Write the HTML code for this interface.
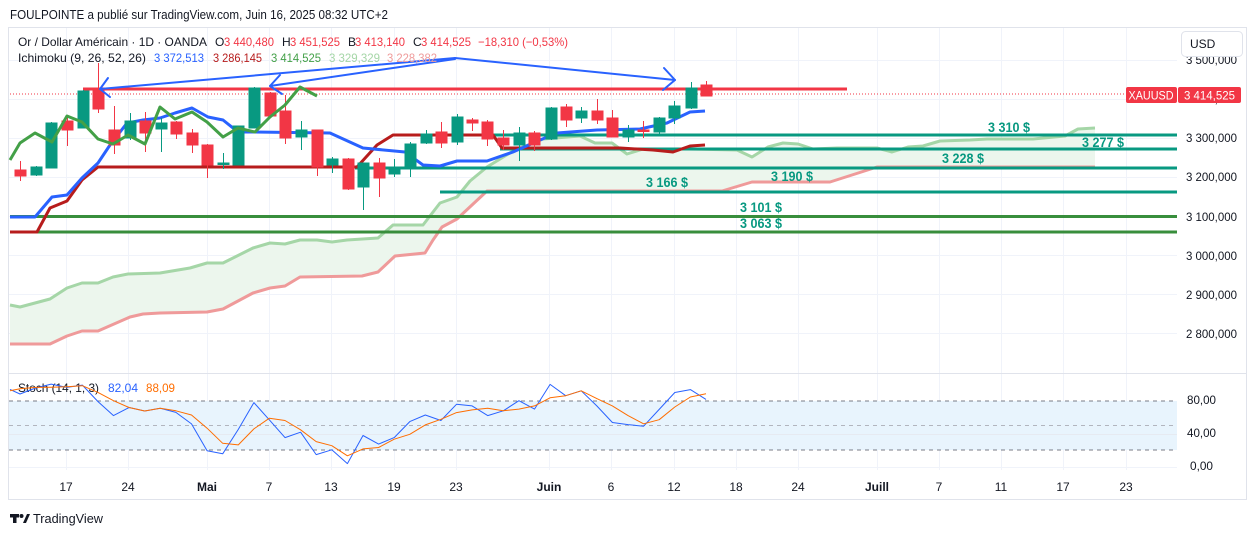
<!DOCTYPE html>
<html><head><meta charset="utf-8"><style>
html,body{margin:0;padding:0;background:#fff;width:1257px;height:536px;overflow:hidden}
svg{display:block;font-family:"Liberation Sans",sans-serif}
</style></head><body>
<svg width="1257" height="536" viewBox="0 0 1257 536" xmlns="http://www.w3.org/2000/svg">
<rect width="1257" height="536" fill="#fff"/>
<text x="10" y="19" font-size="13" fill="#131722" textLength="378" lengthAdjust="spacingAndGlyphs">FOULPOINTE a publié sur TradingView.com, Juin 16, 2025 08:32 UTC+2</text>
<rect x="8.5" y="27.5" width="1238" height="472" fill="none" stroke="#e0e3eb"/>
<!-- grid -->
<g stroke="#f0f3fa" stroke-width="1">
<line x1="66.5" y1="28" x2="66.5" y2="470"/><line x1="128.5" y1="28" x2="128.5" y2="470"/><line x1="207.5" y1="28" x2="207.5" y2="470"/><line x1="269.5" y1="28" x2="269.5" y2="470"/><line x1="331.5" y1="28" x2="331.5" y2="470"/><line x1="394.5" y1="28" x2="394.5" y2="470"/><line x1="456.5" y1="28" x2="456.5" y2="470"/><line x1="549.5" y1="28" x2="549.5" y2="470"/><line x1="611.5" y1="28" x2="611.5" y2="470"/><line x1="674.5" y1="28" x2="674.5" y2="470"/><line x1="736.5" y1="28" x2="736.5" y2="470"/><line x1="798.5" y1="28" x2="798.5" y2="470"/><line x1="877.5" y1="28" x2="877.5" y2="470"/><line x1="939.5" y1="28" x2="939.5" y2="470"/><line x1="1001.5" y1="28" x2="1001.5" y2="470"/><line x1="1063.5" y1="28" x2="1063.5" y2="470"/><line x1="1126.5" y1="28" x2="1126.5" y2="470"/>
<line x1="9" y1="60.5" x2="1177" y2="60.5"/><line x1="9" y1="99.5" x2="1177" y2="99.5"/><line x1="9" y1="138.5" x2="1177" y2="138.5"/><line x1="9" y1="177.5" x2="1177" y2="177.5"/><line x1="9" y1="216.5" x2="1177" y2="216.5"/><line x1="9" y1="255.5" x2="1177" y2="255.5"/><line x1="9" y1="294.5" x2="1177" y2="294.5"/><line x1="9" y1="333.5" x2="1177" y2="333.5"/>
</g>
<line x1="9" y1="373.5" x2="1246" y2="373.5" stroke="#e0e3eb"/>
<!-- cloud -->
<polygon fill="#ecf6ed" points="10,305 20,307 50,299 67,288 82,283 98,283 113,277 128,274 160,273 190,268 207,263 223,263 253,248 270,243 285,244 300,240 317,240 332,242 347,240 378,238 393,225 423,225 440,203 457,197 470,181 487,167 513,151 543,139 580,136 595,143 612,143 627,154 643,149 690,149 737,150 752,157 768,147 783,143 798,144 813,149 837,148 877,148 892,152 908,147 923,146 940,141 970,140 987,139 1033,139 1065,136 1078,129 1095,128 1095,167 877,167 830,182 752,182 722,191 487,191 457,219 442,227 433,240 425,253 395,256 378,272 362,276 300,277 285,286 270,288 253,293 223,309 207,312 160,313 143,314 130,317 98,331 82,331 67,336 50,344 10,344"/>
<polyline fill="none" stroke="#a5d6a7" stroke-width="3" stroke-linejoin="round" points="10,305 20,307 50,299 67,288 82,283 98,283 113,277 128,274 160,273 190,268 207,263 223,263 253,248 270,243 285,244 300,240 317,240 332,242 347,240 378,238 393,225 423,225 440,203 457,197 470,181 487,167 513,151 543,139 580,136 595,143 612,143 627,154 643,149 690,149 737,150 752,157 768,147 783,143 798,144 813,149 837,148 877,148 892,152 908,147 923,146 940,141 970,140 987,139 1033,139 1065,136 1078,129 1095,128"/>
<polyline fill="none" stroke="#ef9a9a" stroke-width="3" stroke-linejoin="round" points="10,344 50,344 67,336 82,331 98,331 130,317 143,314 160,313 207,312 223,309 253,293 270,288 285,286 300,277 362,276 378,272 395,256 425,253 433,240 442,227 457,219 487,191 722,191 752,182 830,182 877,167 1095,167"/>
<!-- horizontal levels -->
<g stroke-width="3">
<line x1="490" y1="135" x2="1177" y2="135" stroke="#089981"/>
<line x1="500" y1="149" x2="1177" y2="149" stroke="#089981"/>
<line x1="355" y1="168" x2="1177" y2="168" stroke="#089981"/>
<line x1="440" y1="192" x2="1177" y2="192" stroke="#089981"/>
<line x1="10" y1="216.5" x2="1177" y2="216.5" stroke="#388e3c"/>
<line x1="10" y1="232" x2="1177" y2="232" stroke="#388e3c"/>
</g>
<g font-size="14" font-weight="bold" fill="#089981">
<text x="988" y="132" textLength="42" lengthAdjust="spacingAndGlyphs">3 310 $</text>
<text x="1082" y="147" textLength="42" lengthAdjust="spacingAndGlyphs">3 277 $</text>
<text x="942" y="163" textLength="42" lengthAdjust="spacingAndGlyphs">3 228 $</text>
<text x="771" y="181" textLength="42" lengthAdjust="spacingAndGlyphs">3 190 $</text>
<text x="646" y="187" textLength="42" lengthAdjust="spacingAndGlyphs">3 166 $</text>
<text x="740" y="212" textLength="42" lengthAdjust="spacingAndGlyphs">3 101 $</text>
<text x="740" y="228" textLength="42" lengthAdjust="spacingAndGlyphs">3 063 $</text>
</g>
<!-- kijun -->
<polyline fill="none" stroke="#b71c1c" stroke-width="3" stroke-linejoin="round" points="10,232 37,232 50,208 67,201 82,180 98,167 357,167 377,145 393,135 493,135 502,148 620,148 653,150 673,152 690,146 705,145"/>
<!-- tenkan -->
<polyline fill="none" stroke="#2962ff" stroke-width="3" stroke-linejoin="round" points="10,217 35,217 52,197 67,195 82,178 98,163 110,145 127,123 143,120 160,118 175,113 192,108 208,117 223,120 238,132 253,132 330,133 363,148 405,152 423,165 440,166 457,161 487,161 513,152 540,140 557,133 597,130 640,129 667,123 690,112 705,111"/>
<!-- close dotted -->
<line x1="10" y1="94" x2="1126" y2="94" stroke="#f23645" stroke-width="1" stroke-dasharray="1,2"/>
<!-- resistance -->
<line x1="83" y1="89" x2="847" y2="89" stroke="#f23645" stroke-width="3"/>
<!-- candles -->
<g stroke-width="1">
<g stroke="#f23645" fill="#f23645">
<line x1="20.5" y1="161" x2="20.5" y2="181"/><rect x="15" y="170" width="11" height="6"/>
<line x1="67.5" y1="116" x2="67.5" y2="146"/><rect x="62" y="121" width="11" height="9"/>
<line x1="98.5" y1="63" x2="98.5" y2="113"/><rect x="93" y="89" width="11" height="20"/>
<line x1="114.5" y1="106" x2="114.5" y2="154"/><rect x="109" y="130" width="11" height="15"/>
<line x1="145.5" y1="112" x2="145.5" y2="152"/><rect x="140" y="121" width="11" height="12"/>
<line x1="176.5" y1="121" x2="176.5" y2="139"/><rect x="171" y="122" width="11" height="12"/>
<line x1="192.5" y1="129" x2="192.5" y2="153"/><rect x="187" y="133" width="11" height="12"/>
<line x1="207.5" y1="144" x2="207.5" y2="178"/><rect x="202" y="145" width="11" height="20"/>
<line x1="270.5" y1="92" x2="270.5" y2="117"/><rect x="265" y="93" width="11" height="23"/>
<line x1="285.5" y1="95" x2="285.5" y2="144"/><rect x="280" y="111" width="11" height="27"/>
<line x1="317.5" y1="130" x2="317.5" y2="176"/><rect x="312" y="130" width="11" height="37"/>
<line x1="348.5" y1="158" x2="348.5" y2="190"/><rect x="343" y="159" width="11" height="30"/>
<line x1="379.5" y1="158" x2="379.5" y2="197"/><rect x="374" y="163" width="11" height="15"/>
<line x1="441.5" y1="122" x2="441.5" y2="148"/><rect x="436" y="132" width="11" height="11"/>
<line x1="472.5" y1="118" x2="472.5" y2="131"/><rect x="467" y="120" width="11" height="3"/>
<line x1="487.5" y1="120" x2="487.5" y2="146"/><rect x="482" y="122" width="11" height="17"/>
<line x1="503.5" y1="130" x2="503.5" y2="150"/><rect x="498" y="138" width="11" height="7"/>
<line x1="534.5" y1="131" x2="534.5" y2="151"/><rect x="529" y="133" width="11" height="12"/>
<line x1="566.5" y1="104" x2="566.5" y2="127"/><rect x="561" y="107" width="11" height="13"/>
<line x1="597.5" y1="99" x2="597.5" y2="124"/><rect x="592" y="111" width="11" height="9"/>
<line x1="612.5" y1="110" x2="612.5" y2="137"/><rect x="607" y="118" width="11" height="19"/>
<line x1="643.5" y1="121" x2="643.5" y2="138"/><rect x="638" y="130" width="11" height="1.5"/>
<line x1="706.5" y1="81" x2="706.5" y2="96"/><rect x="701" y="85" width="11" height="11"/>
</g>
<g stroke="#089981" fill="#089981">
<line x1="36.5" y1="166" x2="36.5" y2="176"/><rect x="31" y="167" width="11" height="8"/>
<line x1="51.5" y1="122" x2="51.5" y2="168"/><rect x="46" y="123" width="11" height="45"/>
<line x1="83.5" y1="90" x2="83.5" y2="128"/><rect x="78" y="91" width="11" height="37"/>
<line x1="130.5" y1="113" x2="130.5" y2="140"/><rect x="125" y="121" width="11" height="17"/>
<line x1="161.5" y1="118" x2="161.5" y2="152"/><rect x="156" y="123" width="11" height="6"/>
<line x1="223.5" y1="153" x2="223.5" y2="169"/><rect x="218" y="163" width="11" height="1.5"/>
<line x1="238.5" y1="126" x2="238.5" y2="165"/><rect x="233" y="126" width="11" height="39"/>
<line x1="254.5" y1="87" x2="254.5" y2="128"/><rect x="249" y="88" width="11" height="40"/>
<line x1="301.5" y1="121" x2="301.5" y2="150"/><rect x="296" y="130" width="11" height="7"/>
<line x1="332.5" y1="157" x2="332.5" y2="173"/><rect x="327" y="159" width="11" height="6"/>
<line x1="363.5" y1="163" x2="363.5" y2="210"/><rect x="358" y="163" width="11" height="24"/>
<line x1="394.5" y1="159" x2="394.5" y2="177"/><rect x="389" y="167" width="11" height="7"/>
<line x1="410.5" y1="142" x2="410.5" y2="177"/><rect x="405" y="144" width="11" height="24"/>
<line x1="426.5" y1="130" x2="426.5" y2="144"/><rect x="421" y="134" width="11" height="9"/>
<line x1="457.5" y1="114" x2="457.5" y2="145"/><rect x="452" y="117" width="11" height="25"/>
<line x1="519.5" y1="127" x2="519.5" y2="161"/><rect x="514" y="133" width="11" height="12"/>
<line x1="551.5" y1="107" x2="551.5" y2="140"/><rect x="546" y="108" width="11" height="31"/>
<line x1="581.5" y1="107" x2="581.5" y2="123"/><rect x="576" y="111" width="11" height="7"/>
<line x1="628.5" y1="125" x2="628.5" y2="142"/><rect x="623" y="130" width="11" height="7"/>
<line x1="659.5" y1="117" x2="659.5" y2="134"/><rect x="654" y="118" width="11" height="14"/>
<line x1="674.5" y1="101" x2="674.5" y2="124"/><rect x="669" y="106" width="11" height="12"/>
<line x1="691.5" y1="82" x2="691.5" y2="109"/><rect x="686" y="88" width="11" height="20"/>
</g>
</g>
<!-- chikou -->
<polyline fill="none" stroke="#43a047" stroke-width="3" stroke-linejoin="round" points="10,160 20,143 35,133 52,142 67,116 82,122 98,139 113,144 128,135 145,144 160,107 175,119 192,112 207,122 223,137 238,128 255,132 270,117 285,105 300,87 317,96"/>
<!-- drawn arrows -->
<g fill="none" stroke="#2962ff" stroke-width="2" stroke-linecap="round" stroke-linejoin="round">
<polyline points="455,58 100,89"/><polyline points="108,78 100,89 110,97"/>
<polyline points="455,59 270,86"/><polyline points="280,75 270,86 282,94"/>
<polyline points="455,58 675,80"/><polyline points="664,68 675,80 663,90"/>
</g>
<!-- legend -->
<g font-size="12" fill="#131722">
<text x="18" y="46" textLength="189" lengthAdjust="spacingAndGlyphs">Or / Dollar Américain · 1D · OANDA</text>
<text x="215" y="46">O</text><text x="224" y="46" fill="#f23645" textLength="50" lengthAdjust="spacingAndGlyphs">3 440,480</text>
<text x="282" y="46">H</text><text x="290" y="46" fill="#f23645" textLength="50" lengthAdjust="spacingAndGlyphs">3 451,525</text>
<text x="348" y="46">B</text><text x="355" y="46" fill="#f23645" textLength="50" lengthAdjust="spacingAndGlyphs">3 413,140</text>
<text x="413" y="46">C</text><text x="421" y="46" fill="#f23645" textLength="50" lengthAdjust="spacingAndGlyphs">3 414,525</text>
<text x="478" y="46" fill="#f23645" textLength="90" lengthAdjust="spacingAndGlyphs">−18,310 (−0,53%)</text>
<text x="18" y="62" textLength="128" lengthAdjust="spacingAndGlyphs">Ichimoku (9, 26, 52, 26)</text>
<text x="154" y="62" fill="#2962ff" textLength="50" lengthAdjust="spacingAndGlyphs">3 372,513</text>
<text x="213" y="62" fill="#b71c1c" textLength="49" lengthAdjust="spacingAndGlyphs">3 286,145</text>
<text x="271" y="62" fill="#43a047" textLength="50" lengthAdjust="spacingAndGlyphs">3 414,525</text>
<text x="329" y="62" fill="#a5d6a7" textLength="51" lengthAdjust="spacingAndGlyphs">3 329,329</text>
<text x="387" y="62" fill="#ef9a9a" textLength="50" lengthAdjust="spacingAndGlyphs">3 228,382</text>
</g>
<!-- price axis -->
<g font-size="12" fill="#131722">
<text x="1186" y="64" textLength="51" lengthAdjust="spacingAndGlyphs">3 500,000</text>
<text x="1186" y="103" textLength="51" lengthAdjust="spacingAndGlyphs">3 400,000</text>
<text x="1186" y="142" textLength="51" lengthAdjust="spacingAndGlyphs">3 300,000</text>
<text x="1186" y="181" textLength="51" lengthAdjust="spacingAndGlyphs">3 200,000</text>
<text x="1186" y="221" textLength="51" lengthAdjust="spacingAndGlyphs">3 100,000</text>
<text x="1186" y="260" textLength="51" lengthAdjust="spacingAndGlyphs">3 000,000</text>
<text x="1186" y="299" textLength="51" lengthAdjust="spacingAndGlyphs">2 900,000</text>
<text x="1186" y="338" textLength="51" lengthAdjust="spacingAndGlyphs">2 800,000</text>
</g>
<rect x="1181.5" y="31.5" width="61" height="25" rx="4" fill="#fff" stroke="#e0e3eb"/>
<text x="1190" y="48" font-size="12" fill="#131722">USD</text>
<rect x="1126" y="87" width="51" height="16" rx="2" fill="#f23645"/>
<rect x="1178" y="87" width="63" height="16" rx="2" fill="#f23645"/>
<text x="1151" y="99.5" font-size="12" fill="#fff" text-anchor="middle" textLength="45" lengthAdjust="spacingAndGlyphs">XAUUSD</text>
<text x="1209.5" y="99.5" font-size="12" fill="#fff" text-anchor="middle" textLength="51" lengthAdjust="spacingAndGlyphs">3 414,525</text>
<!-- stoch pane -->
<rect x="9" y="401" width="1168" height="49" fill="#e8f4fd"/>
<line x1="9" y1="434.5" x2="1177" y2="434.5" stroke="#e6eaf1"/>
<line x1="9" y1="467.5" x2="1177" y2="467.5" stroke="#f0f3fa"/>
<line x1="9" y1="401" x2="1177" y2="401" stroke="#787b86" stroke-dasharray="4,4"/>
<line x1="9" y1="425.5" x2="1177" y2="425.5" stroke="#b2b5be" stroke-dasharray="4,4"/>
<line x1="9" y1="450" x2="1177" y2="450" stroke="#787b86" stroke-dasharray="4,4"/>
<text x="18" y="392" font-size="12" fill="#131722" textLength="81" lengthAdjust="spacingAndGlyphs">Stoch (14, 1, 3)</text>
<text x="108" y="392" font-size="12" fill="#2962ff" textLength="30" lengthAdjust="spacingAndGlyphs">82,04</text>
<text x="146" y="392" font-size="12" fill="#ff6d00" textLength="29" lengthAdjust="spacingAndGlyphs">88,09</text>
<polyline fill="none" stroke="#2962ff" stroke-width="1" stroke-linejoin="round" points="10,389.4 20,394.0 35.6,388.0 51.2,384.1 66.8,387.4 82.4,385.1 98,401.6 113.5,415.6 129.1,407.5 144.7,411.0 160.3,408.3 175.9,412.4 191.5,423.9 207.1,450.7 222.7,453.8 238.3,429.4 253.9,402.6 269.4,419.9 285,437.6 300.6,432.2 316.2,454.6 331.8,449.8 347.4,463.6 363,435.5 378.6,444.1 394.2,437.6 409.8,421.6 425.3,415.0 440.9,420.5 456.5,404.3 472.1,405.9 487.7,415.6 503.3,410.8 518.9,400.7 534.5,409.1 550.1,384.4 565.7,395.7 581.2,390.8 596.8,405.9 612.4,422.5 628,424.6 643.6,426.2 659.2,409.4 674.8,392.5 690.4,389.6 706,399.4"/>
<polyline fill="none" stroke="#ff6d00" stroke-width="1" stroke-linejoin="round" points="10,390.8 20,388.8 35.6,387.4 51.2,387.2 66.8,386.8 82.4,385.7 98,392.4 113.5,400.7 129.1,407.5 144.7,411.0 160.3,408.3 175.9,410.8 191.5,415.0 207.1,428.2 222.7,443.3 238.3,444.9 253.9,428.9 269.4,418.2 285,420.5 300.6,429.8 316.2,441.6 331.8,445.7 347.4,455.8 363,448.9 378.6,447.5 394.2,439.2 409.8,434.3 425.3,424.9 440.9,419.3 456.5,412.6 472.1,409.9 487.7,408.3 503.3,410.8 518.9,409.1 534.5,405.9 550.1,397.8 565.7,395.7 581.2,390.8 596.8,398.6 612.4,405.9 628,415.6 643.6,423.8 659.2,419.7 674.8,407.0 690.4,397.0 706,393.7"/>
<g font-size="12" fill="#131722">
<text x="1187" y="404" textLength="29" lengthAdjust="spacingAndGlyphs">80,00</text>
<text x="1187" y="437" textLength="29" lengthAdjust="spacingAndGlyphs">40,00</text>
<text x="1190" y="470" textLength="23" lengthAdjust="spacingAndGlyphs">0,00</text>
</g>
<!-- time axis -->
<g font-size="12" fill="#131722" text-anchor="middle">
<text x="66" y="491">17</text><text x="128" y="491">24</text><text x="207" y="491" font-weight="bold">Mai</text><text x="269" y="491">7</text><text x="331" y="491">13</text><text x="394" y="491">19</text><text x="456" y="491">23</text><text x="549" y="491" font-weight="bold">Juin</text><text x="611" y="491">6</text><text x="674" y="491">12</text><text x="736" y="491">18</text><text x="798" y="491">24</text><text x="877" y="491" font-weight="bold">Juill</text><text x="939" y="491">7</text><text x="1001" y="491">11</text><text x="1063" y="491">17</text><text x="1126" y="491">23</text>
</g>
<!-- logo -->
<g fill="#131722">
<rect x="10" y="514" width="9" height="3.5"/><rect x="13" y="514" width="3.5" height="9"/>
<circle cx="21.5" cy="516" r="2"/>
<polygon points="23,523 27,514 30,514 26,523"/>
</g>
<text x="33" y="523" font-size="13" fill="#131722" textLength="70" lengthAdjust="spacingAndGlyphs">TradingView</text>
</svg>
</body></html>
